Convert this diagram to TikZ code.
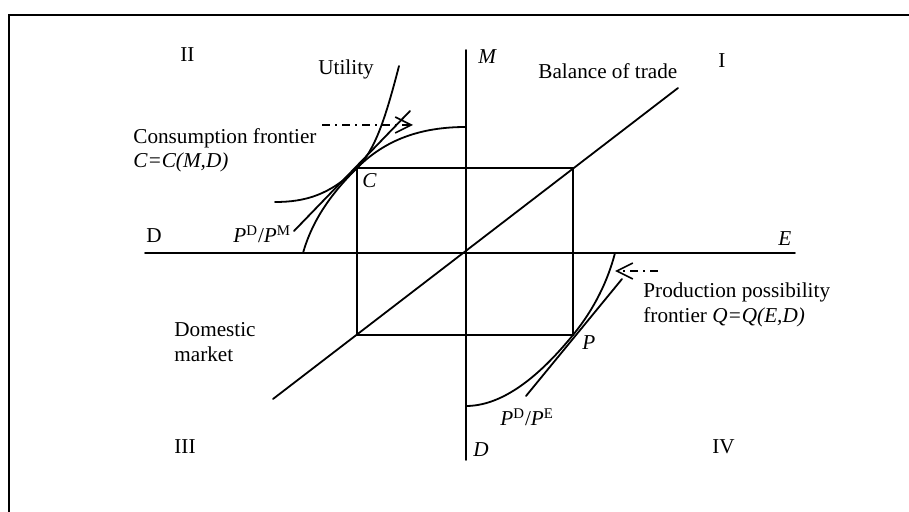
\documentclass[tikz,border=0pt]{standalone}
\usepackage{fontspec}
\setmainfont{Liberation Serif}
\usetikzlibrary{arrows.meta}
\begin{document}
\begin{tikzpicture}[x=0.5pt,y=-0.5pt,
  every node/.style={font=\fontsize{10.6}{12.6}\selectfont, inner sep=0pt, anchor=base west},
  ln/.style={line width=0.9pt, line cap=round},
  dashdot/.style={line width=0.8pt, dash pattern=on 4pt off 2.5pt on 1pt off 2.5pt},
  barb/.style={-{Straight Barb[length=8pt,width=8pt,line width=0.8pt]}}]
\useasboundingbox (0,0) rectangle (909,512);
% frame
\draw[line width=1pt] (909,15) -- (9,15) -- (9,512);
% coordinates
\coordinate (O) at (466,253);
\coordinate (C) at (357,168);
\coordinate (P) at (573,335);
\coordinate (R1) at (573,168);
\coordinate (R2) at (357,335);
\coordinate (Mtop) at (466,50);
\coordinate (Dbot) at (466,460);
\coordinate (Dleft) at (145,253);
\coordinate (Eright) at (795,253);
\coordinate (B1) at (273,399);
\coordinate (B2) at (678,88);
% axes
\draw[ln] (Mtop) -- (Dbot);
\draw[ln] (Dleft) -- (Eright);
% rectangle
\draw[ln] (C) -- (R1) -- (P) -- (R2) -- cycle;
% balance of trade
\draw[ln] (B1) -- (B2);
% consumption frontier
\draw[ln] (303,253) .. controls (313,218) and (333,192) .. (C) .. controls (385,140) and (420,127) .. (466,127);
% utility
\draw[ln] (399,66) .. controls (385,120) and (375,150) .. (C) .. controls (330,195) and (305,202) .. (275,202);
% tangent at C
\coordinate (tc1) at (294,231);
\coordinate (tc2) at (410,111);
\draw[ln] (tc1) -- (tc2);
% production frontier
\draw[ln] (466,406) .. controls (510,406) and (550,363) .. (P) .. controls (595,308) and (608,280) .. (615,253);
% tangent at P
\coordinate (tp1) at (526,396);
\coordinate (tp2) at (622,279);
\draw[ln] (tp1) -- (tp2);
% dash-dot arrows
\coordinate (a1s) at (322,125);
\coordinate (a1e) at (413,125);
\coordinate (a2s) at (658,271);
\coordinate (a2e) at (615,271);
\draw[dashdot,barb] (a1s) -- (a1e);
\draw[dashdot,barb] (a2s) -- (a2e);
% labels
\node (qII) at (180,62) {II};
\node (qI) at (718,68) {I};
\node (qIII) at (174,453) {III};
\node (qIV) at (712,453) {IV};
\node (util) at (318,75) {Utility};
\node (cf1) at (133,144) {Consumption frontier};
\node (cf2) at (133,168) {\itshape C=C(M,D)};
\node (lC) at (362,188) {\itshape C};
\node (lM) at (478,64) {\itshape M};
\node (bot) at (538,79) {Balance of trade};
\node (lD) at (146,243) {D};
\node (pdm) at (233,243) {\textit{P}\textsuperscript{D}/\textit{P}\textsuperscript{M}};
\node (lE) at (778,246) {\itshape E};
\node (pp1) at (643,298) {Production possibility};
\node (pp2) at (643,323) {frontier \textit{Q=Q(E,D)}};
\node (lP) at (582,350) {\itshape P};
\node (pde) at (500,426) {\textit{P}\textsuperscript{D}/\textit{P}\textsuperscript{E}};
\node (lDb) at (473,457) {\itshape D};
\node (dm1) at (174,337) {Domestic};
\node (dm2) at (174,362) {market};
\end{tikzpicture}
\end{document}
